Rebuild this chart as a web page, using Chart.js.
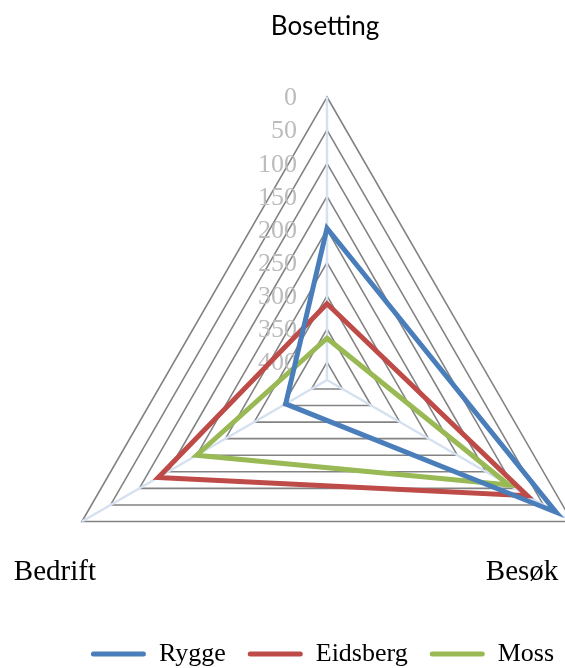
<!DOCTYPE html>
<html>
<head>
<meta charset="utf-8">
<title>Radar</title>
<script src="https://cdn.jsdelivr.net/npm/chart.js@4.4.0/dist/chart.umd.min.js"></script>
<style>
  html, body { margin: 0; padding: 0; background: #fff; overflow: hidden; }
</style>
</head>
<body>
<canvas id="radarChart" width="565" height="668"></canvas>
<script>
// data (scale is reversed: 0 at the outside)
const categories = ['Bosetting', 'Besøk', 'Bedrift'];
const rygge = [198, 28, 355];
const eidsberg = [312, 78, 133];
const moss = [364, 110, 200];
const tickValues = [0, 50, 100, 150, 200, 250, 300, 350, 400];
const axisMax = 427;

// layout of the plot inside the canvas
const plotBox = { cx: 327, cy: 380, radius: 283 };
const labelOffsets = [
    { dx: -2, dy: -70, font: '26px Lato' },
    { dx: -50, dy: 51, font: '29px "Liberation Serif"' },
    { dx: -27, dy: 51, font: '29px "Liberation Serif"' }
];

const fixGeometry = {
    id: 'fixGeometry',
    afterLayout(chart) {
        const s = chart.scales.r;
        s.xCenter = plotBox.cx;
        s.yCenter = plotBox.cy;
        s.drawingArea = plotBox.radius;
    }
};

// tick labels sit left of the top spoke, right aligned
const tickLabels = {
    id: 'tickLabels',
    beforeDatasetsDraw(chart) {
        const s = chart.scales.r;
        const ctx = chart.ctx;
        ctx.save();
        ctx.font = '26px "Liberation Serif"';
        ctx.fillStyle = '#bcbcbc';
        ctx.textAlign = 'right';
        ctx.textBaseline = 'middle';
        tickValues.forEach(v => {
            const d = s.getDistanceFromCenterForValue(v);
            ctx.fillText(String(v), s.xCenter - 30, s.yCenter - d + 1.5);
        });
        ctx.restore();
    }
};

const categoryLabels = {
    id: 'categoryLabels',
    afterDraw(chart) {
        const s = chart.scales.r;
        const ctx = chart.ctx;
        ctx.save();
        ctx.fillStyle = '#000';
        ctx.textAlign = 'center';
        ctx.textBaseline = 'middle';
        categories.forEach((name, i) => {
            const p = s.getPointPosition(i, s.drawingArea);
            const o = labelOffsets[i];
            ctx.font = o.font;
            ctx.fillText(name, p.x + o.dx, p.y + o.dy);
        });
        ctx.restore();
    }
};

function series(label, data, color) {
    return {
        label: label,
        data: data,
        borderColor: color,
        backgroundColor: 'transparent',
        borderWidth: 5,
        borderJoinStyle: 'miter',
        fill: false,
        pointRadius: 0,
        pointHoverRadius: 0,
        clip: false
    };
}

new Chart(document.getElementById('radarChart'), {
    type: 'radar',
    data: {
        labels: categories,
        datasets: [
            series('Rygge', rygge, '#4a7ebb'),
            series('Eidsberg', eidsberg, '#be4b48'),
            series('Moss', moss, '#98b954')
        ]
    },
    options: {
        responsive: false,
        animation: false,
        elements: { line: { tension: 0 } },
        // shifts the legend, the plot itself is placed by fixGeometry
        layout: { padding: { left: 40, right: -40, bottom: -9 } },
        scales: {
            r: {
                min: 0,
                max: axisMax,
                reverse: true,
                afterBuildTicks(scale) {
                    // first tick (the centre) is skipped by the grid drawing
                    scale.ticks = [axisMax].concat(tickValues.slice().reverse()).map(v => ({ value: v }));
                },
                ticks: { display: false },
                pointLabels: { display: false },
                grid: { color: '#838383', lineWidth: 1.6 },
                angleLines: { color: '#d5e1f0', lineWidth: 2.5 }
            }
        },
        plugins: {
            tooltip: { enabled: false },
            legend: {
                position: 'bottom',
                labels: {
                    boxWidth: 55,
                    boxHeight: 5,
                    padding: 22,
                    color: '#000',
                    font: { family: 'Liberation Serif', size: 26 },
                    useBorderRadius: true,
                    borderRadius: 2.5,
                    generateLabels(chart) {
                        return chart.data.datasets.map((ds, i) => ({
                            text: ds.label,
                            fillStyle: ds.borderColor,
                            strokeStyle: ds.borderColor,
                            lineWidth: 0,
                            hidden: false,
                            datasetIndex: i,
                            borderRadius: 2.5
                        }));
                    }
                }
            }
        }
    },
    plugins: [fixGeometry, tickLabels, categoryLabels]
});
</script>
</body>
</html>
